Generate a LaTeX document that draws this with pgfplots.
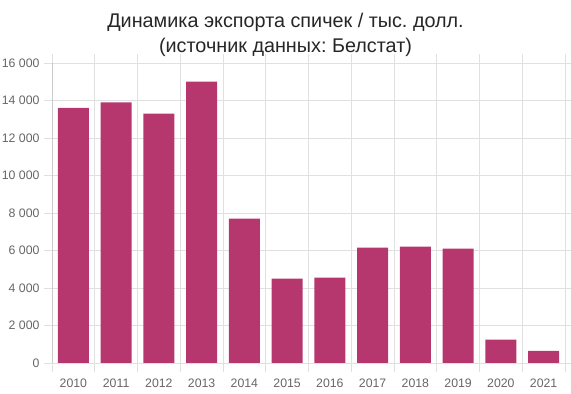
\documentclass[border=0pt]{standalone}
\usepackage{pgfplots}
\pgfplotsset{compat=1.18}
\usepackage{fontspec}
\setmainfont{Liberation Sans}
\frenchspacing
\definecolor{barc}{HTML}{B5376E}
\definecolor{gridc}{HTML}{E0E0E0}
\definecolor{labc}{HTML}{666666}
\begin{document}
\begin{tikzpicture}
\useasboundingbox (0,0) rectangle (571bp,394bp);
\begin{axis}[
  at={(52bp,31bp)}, anchor=south west,
  scale only axis, width=513bp, height=300bp,
  xmin=-0.5, xmax=11.5, ymin=0, ymax=16000,
  axis line style={draw=none},
  xtick={0,...,11},
  xticklabels={2010,2011,2012,2013,2014,2015,2016,2017,2018,2019,2020,2021},
  major x tick style={draw=none},
  minor xtick={-0.5,0.5,...,11.5},
  minor x grid style={gridc, line width=0.7pt},
  xminorgrids=true,
  minor tick length=9bp,
  tick align=outside,
  ytick={0,2000,...,16000},
  yticklabels={0,2 000,4 000,6 000,8 000,10 000,12 000,14 000,16 000},
  ymajorgrids=true,
  major y grid style={gridc, line width=0.7pt},
  major tick length=8bp,
  every tick/.style={gridc, line width=0.7pt},
  ticklabel style={font=\fontsize{12.3bp}{14bp}\selectfont, text=labc},
  xticklabel style={yshift=-4bp},
  yticklabel style={xshift=-1bp},
  scaled y ticks=false,
]
\addplot[ybar, bar width=0.72, fill=barc, draw=none] coordinates {
(0,13600) (1,13900) (2,13300) (3,15000) (4,7700) (5,4500)
(6,4550) (7,6150) (8,6200) (9,6100) (10,1250) (11,650)};
\draw[gridc!80!black, line width=0.7pt] (axis cs:-0.5,0) -- (axis cs:11.5,0);
\draw[gridc!90!black, line width=0.7pt] (axis cs:-0.5,0) -- (axis cs:-0.5,16000);
\end{axis}
\node[align=center, font=\fontsize{19.8bp}{24.5bp}\selectfont, text=black!85] at (285.5bp,359bp) {Динамика экспорта спичек / тыс. долл.\\(источник данных: Белстат)};
\end{tikzpicture}
\end{document}
